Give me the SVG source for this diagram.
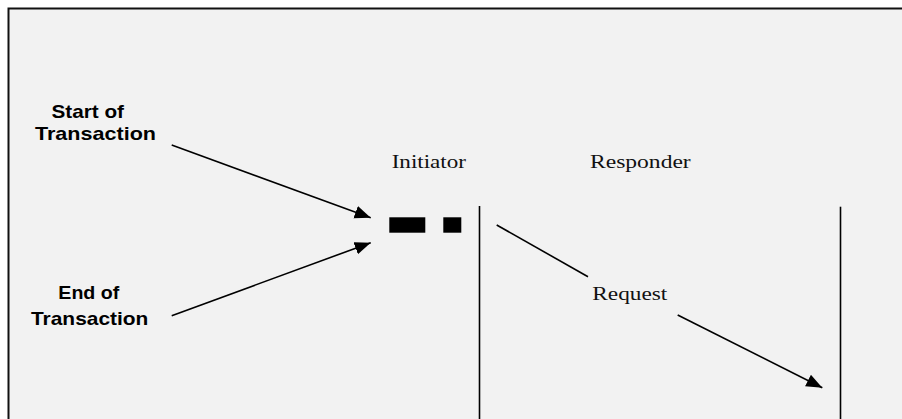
<svg xmlns="http://www.w3.org/2000/svg" width="902" height="419" viewBox="0 0 902 419">
  <style>
    .lbl { font-family: "Liberation Sans", Arial, sans-serif; font-weight: bold; font-size: 18.5px; fill: #000; }
    .role { font-family: "Liberation Serif", "Times New Roman", serif; font-size: 19px; fill: #111; }
    .conn { stroke: #000; stroke-width: 1.6; fill: none; }
    .life { stroke: #000; stroke-width: 1.6; }
  </style>
  <defs>
    <marker id="head" markerUnits="userSpaceOnUse" markerWidth="17" markerHeight="14" refX="16" refY="7" orient="auto">
      <path d="M0,0.5 L16,7 L0,13.5 z" fill="#000"/>
    </marker>
  </defs>

  <!-- page -->
  <rect x="0" y="0" width="902" height="419" fill="#ffffff"/>
  <rect x="9" y="9" width="893" height="410" fill="#f2f2f2"/>
  <path d="M8.5,419 V8.5 H902" stroke="#111" stroke-width="2" fill="none"/>

  <!-- labels on the left -->
  <g id="start-label">
    <text class="lbl" x="51.5" y="117.7" textLength="72.5" lengthAdjust="spacingAndGlyphs">Start of</text>
    <text class="lbl" x="35" y="140" textLength="121" lengthAdjust="spacingAndGlyphs">Transaction</text>
  </g>
  <g id="end-label">
    <text class="lbl" x="58.3" y="299.3" textLength="61" lengthAdjust="spacingAndGlyphs">End of</text>
    <text class="lbl" x="31" y="325" textLength="117.3" lengthAdjust="spacingAndGlyphs">Transaction</text>
  </g>

  <!-- initiator lifeline with transaction marks -->
  <g id="initiator">
    <text class="role" x="391.7" y="167.7" textLength="74.3" lengthAdjust="spacingAndGlyphs">Initiator</text>
    <line class="life" x1="479.5" y1="206" x2="479.5" y2="419"/>
    <rect x="389.3" y="217.3" width="36" height="15.4" fill="#000"/>
    <rect x="443.3" y="217.3" width="18" height="15.4" fill="#000"/>
  </g>

  <!-- responder lifeline -->
  <g id="responder">
    <text class="role" x="590" y="168.3" textLength="100.7" lengthAdjust="spacingAndGlyphs">Responder</text>
    <line class="life" x1="840.5" y1="206.7" x2="840.5" y2="419"/>
  </g>

  <!-- request message label -->
  <g id="request-label">
    <text class="role" x="592.3" y="300" textLength="75" lengthAdjust="spacingAndGlyphs">Request</text>
  </g>

  <!-- connectors -->
  <g id="connectors">
    <line class="conn" x1="171.7" y1="145" x2="370.7" y2="217.7" marker-end="url(#head)"/>
    <line class="conn" x1="171.7" y1="315.7" x2="370.7" y2="242.7" marker-end="url(#head)"/>
    <line class="conn" x1="496.7" y1="225" x2="588" y2="276.7"/>
    <line class="conn" x1="677.7" y1="315" x2="822.3" y2="387.7" marker-end="url(#head)"/>
  </g>
</svg>
